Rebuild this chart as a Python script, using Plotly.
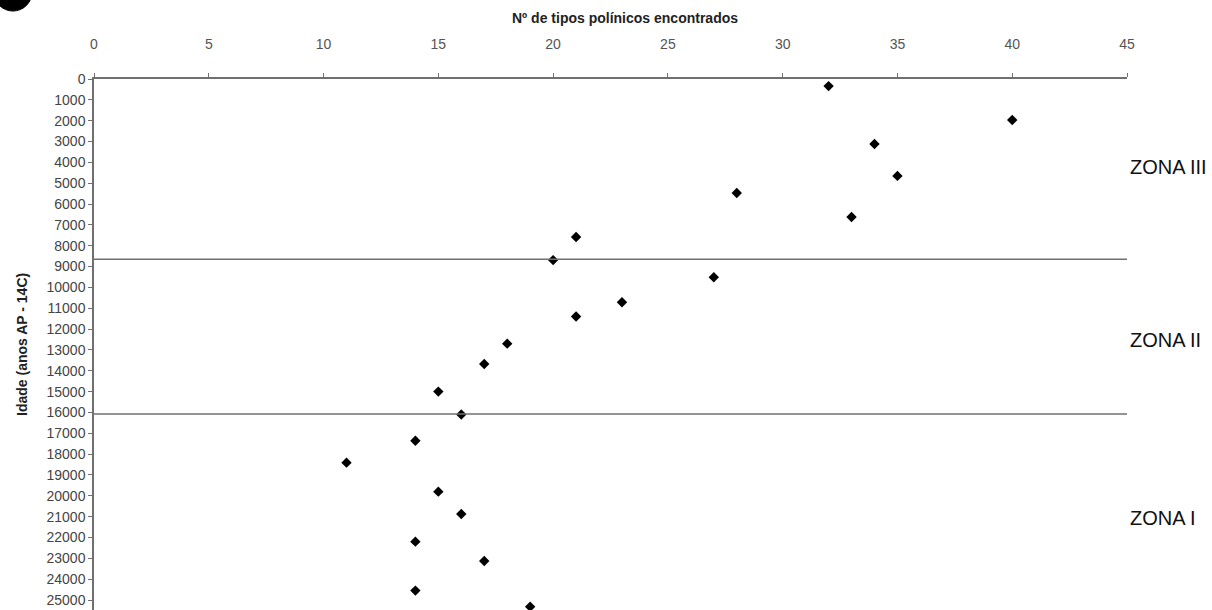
import plotly.graph_objects as go

# Data
n_tipos = [32, 40, 34, 35, 28, 33, 21, 20, 27, 23, 21, 18, 17, 15, 16, 14, 11, 15, 16, 14, 17, 14, 19]
idade = [340, 1970, 3120, 4650, 5470, 6620, 7580, 8690, 9510, 10715, 11400, 12700, 13675,
         15000, 16100, 17355, 18410, 19800, 20875, 22200, 23130, 24550, 25320]

zone_limits = [8650, 16070]
zone_names = ["ZONA III", "ZONA II", "ZONA I"]
zone_label_y = [4220, 12520, 21060]

x_ticks = list(range(0, 46, 5))
y_ticks = list(range(0, 25001, 1000))

fig = go.Figure()
fig.add_trace(go.Scatter(
    x=n_tipos, y=idade, mode="markers",
    marker=dict(symbol="diamond", size=8, color="black"),
    cliponaxis=False, showlegend=False,
))

axis_color = "#707070"
fig.update_xaxes(
    side="top", range=[0, 45], tickvals=x_ticks, ticktext=[str(v) for v in x_ticks],
    showgrid=False, zeroline=False, showline=True, linecolor=axis_color, linewidth=1.5,
    ticks="outside", ticklen=4, tickcolor=axis_color, ticklabelstandoff=19,
    tickfont=dict(family="Liberation Sans, Arial", size=14, color="#555555"),
    automargin=False,
)
fig.update_yaxes(
    range=[25480, 0], tickvals=y_ticks, ticktext=[str(v) for v in y_ticks],
    showgrid=False, zeroline=False, showline=True, linecolor=axis_color, linewidth=1.5,
    ticks="outside", ticklen=4, tickcolor=axis_color,
    tickfont=dict(family="Liberation Sans, Arial", size=14, color="#444444"),
    automargin=False,
)

shapes = []
for yl in zone_limits:
    shapes.append(dict(type="line", xref="paper", yref="y", x0=0, x1=1, y0=yl, y1=yl,
                       line=dict(color="#707070", width=1.5)))
# cropped panel label blob at top-left
shapes.append(dict(type="circle", xref="paper", yref="paper",
                   x0=-0.097, x1=-0.060, y0=1.128, y1=1.20,
                   fillcolor="black", line=dict(color="black", width=1)))

annotations = []
for name, yv in zip(zone_names, zone_label_y):
    annotations.append(dict(text=name, xref="paper", yref="y", x=1.001, y=yv,
                            xanchor="left", yanchor="middle", showarrow=False,
                            font=dict(family="Liberation Sans, Arial", size=20, color="#111111")))
annotations.append(dict(text="<b>Nº de tipos polínicos encontrados</b>", xref="paper", yref="paper",
                        x=0.514, y=1.115, xanchor="center", yanchor="middle", showarrow=False,
                        font=dict(family="Liberation Sans, Arial", size=14, color="#222222")))
annotations.append(dict(text="<b>Idade (anos AP - 14C)</b>", xref="paper", yref="paper",
                        x=-0.0697, y=0.501, xanchor="center", yanchor="middle", showarrow=False,
                        textangle=-90,
                        font=dict(family="Liberation Sans, Arial", size=14, color="#222222")))

fig.update_layout(
    width=1212, height=610,
    margin=dict(l=94, r=85, t=79, b=0),
    plot_bgcolor="white", paper_bgcolor="white",
    shapes=shapes, annotations=annotations,
)

fig.write_html("out.html", config={"displayModeBar": False},
               post_script="document.body.style.margin='0';document.body.style.overflow='hidden';")
